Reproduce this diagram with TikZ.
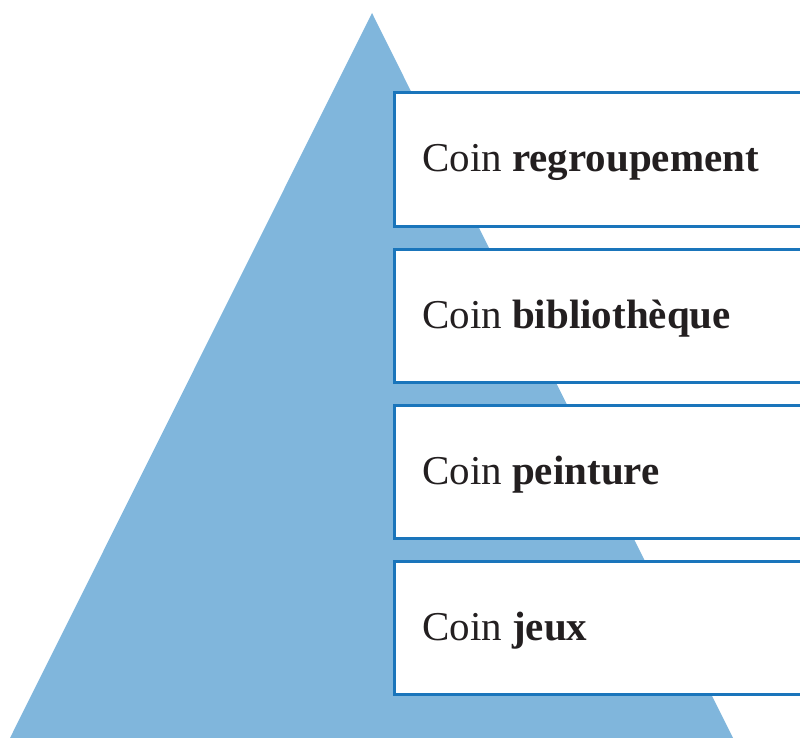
\documentclass[tikz,border=0pt]{standalone}
\usepackage{fontspec}
\setmainfont{Liberation Serif}
\definecolor{tri}{HTML}{80B6DC}
\definecolor{edge}{HTML}{1A75BB}
\definecolor{txt}{HTML}{231F20}
\begin{document}
\begin{tikzpicture}[x=1pt,y=-1pt,
  lvl/.style={draw=edge,line width=3pt,fill=white},
  lbl/.style={anchor=base west,inner sep=0pt,text=txt,font=\fontsize{41}{46}\selectfont}]
\useasboundingbox (0,0) rectangle (800,738);
\clip (0,0) rectangle (800,738);
\fill[tri] (372,13) -- (733,738) -- (10,738) -- cycle;
\foreach \t/\n [count=\i from 0] in {regroupement/a,biblioth\`eque/b,peinture/c,jeux/d}{
  \path[lvl] (394,{93+156*\i}) rectangle (806,{226+156*\i});
  \node[lbl] (\n) at (422,{172+156*\i}) {Coin \textbf{\t}};
}
\end{tikzpicture}
\end{document}
